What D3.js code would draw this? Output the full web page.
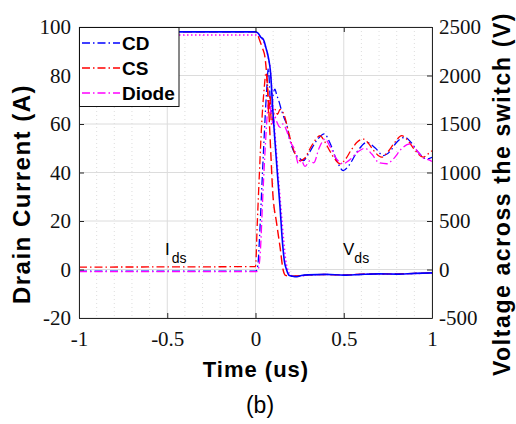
<!DOCTYPE html>
<html>
<head>
<meta charset="utf-8">
<script src="https://cdn.jsdelivr.net/npm/d3@7"></script>
<style>
  body { margin: 0; background: #fff; }
  svg { display: block; }
</style>
</head>
<body>
<svg id="chart" width="516" height="424"></svg>
<script>
// ---- data ----
var xTicks = [-1, -0.5, 0, 0.5, 1];
var xTickLabels = ["-1", "-0.5", "0", "0.5", "1"];
var iTicks = [-20, 0, 20, 40, 60, 80, 100];
var vTicks = [-500, 0, 500, 1000, 1500, 2000, 2500];
var minorX = [-0.9, -0.8, -0.7, -0.6, -0.4, -0.3, -0.2, -0.1, 0.1, 0.2, 0.3, 0.4, 0.6, 0.7, 0.8, 0.9];

var seriesNames = ["CD", "CS", "Diode"];
var seriesColors = ["#0000ff", "#ff0000", "#ff00ff"];

// drain current (A), dash-dot
var tIdsCD = [-1, 0, 0.005, 0.015, 0.022, 0.035, 0.048, 0.063, 0.073, 0.08, 0.088, 0.095, 0.1, 0.11, 0.12, 0.13, 0.148, 0.165, 0.176, 0.19, 0.215, 0.243, 0.271, 0.3, 0.35, 0.39, 0.42, 0.46, 0.497, 0.53, 0.58, 0.63, 0.68, 0.724, 0.76, 0.8, 0.847, 0.88, 0.92, 0.971, 1.0];
var idsCD  = [-0.7, -0.7, -0.5, 3, 12, 32.6, 53, 73.7, 83, 75, 64, 68, 72, 74.4, 72, 70, 65.5, 62, 60, 55, 49, 46.3, 44.9, 47.7, 53.5, 55.9, 52.5, 45, 40.8, 43, 49, 52.4, 50, 47, 48.5, 52.5, 54.5, 52.5, 48.5, 45.6, 46.3];

var tIdsCS = [-1, 0, 0.01, 0.022, 0.035, 0.048, 0.06, 0.068, 0.075, 0.082, 0.09, 0.1, 0.11, 0.125, 0.139, 0.167, 0.186, 0.205, 0.233, 0.252, 0.28, 0.31, 0.34, 0.365, 0.39, 0.42, 0.45, 0.479, 0.51, 0.54, 0.575, 0.611, 0.64, 0.67, 0.715, 0.75, 0.79, 0.828, 0.86, 0.9, 0.951, 0.975, 1.0];
var idsCS  = [1.0, 1.2, 18.9, 39.5, 60, 73.7, 81.2, 76, 64, 72, 60, 63, 66, 64, 66, 62.7, 57, 51.8, 46.3, 44.9, 46, 50, 53.5, 55.2, 53, 49, 45.5, 43.6, 45.5, 49, 52.5, 53.8, 52, 49, 46.3, 48.5, 52.5, 55.2, 53.5, 49.5, 46.3, 47.5, 49];

var tIdsDiode = [-1, 0.005, 0.015, 0.028, 0.04, 0.055, 0.068, 0.078, 0.088, 0.1, 0.11, 0.12, 0.139, 0.155, 0.176, 0.195, 0.224, 0.243, 0.26, 0.28, 0.309, 0.33, 0.36, 0.394, 0.42, 0.46, 0.497, 0.53, 0.58, 0.62, 0.66, 0.7, 0.743, 0.78, 0.83, 0.875, 0.91, 0.95, 0.99, 1.0];
var idsDiode  = [-0.9, -0.9, 0, 8, 28, 50, 65, 70, 64, 60, 63, 61, 58.6, 60, 57.3, 53, 49, 43.6, 45, 42.5, 44.9, 44, 50, 53.8, 51, 45.5, 43.6, 45, 48.5, 50, 47.5, 44, 43.6, 45.5, 50, 51.8, 49.5, 46, 45, 44.5];

// voltage across the switch (V): CD solid, CS dashed, Diode dotted
var tVdsCD = [-1, 0, 0.015, 0.03, 0.045, 0.06, 0.073, 0.086, 0.097, 0.11, 0.124, 0.139, 0.152, 0.163, 0.177, 0.19, 0.21, 0.235, 0.26, 0.3, 0.4, 0.5, 0.6, 0.7, 0.8, 0.9, 1.0];
var vdsCD  = [2450, 2450, 2435, 2395, 2370, 2280, 2185, 2015, 1670, 1328, 988, 643, 300, 95, -8, -60, -70, -75, -62, -55, -50, -58, -50, -45, -48, -40, -35];

var tVdsCS = [-1, 0, 0.012, 0.025, 0.04, 0.054, 0.063, 0.075, 0.086, 0.097, 0.12, 0.139, 0.157, 0.17, 0.2, 0.25, 0.3, 0.4, 0.5, 0.6, 0.7, 0.8, 0.9, 1.0];
var vdsCS  = [2450, 2450, 2420, 2355, 2280, 2185, 2015, 1650, 1230, 815, 473, 233, -8, -60, -70, -65, -55, -52, -55, -48, -45, -45, -40, -35];

var tVdsDiode = [-1, 0, 0.02, 0.035, 0.05, 0.07, 0.085, 0.1, 0.115, 0.13, 0.145, 0.16, 0.172, 0.185, 0.2, 0.24, 0.3, 0.4, 0.5, 0.6, 0.7, 0.8, 0.9, 1.0];
var vdsDiode  = [2418, 2418, 2410, 2385, 2330, 2200, 2050, 1650, 1300, 950, 620, 300, 90, -10, -60, -70, -58, -52, -55, -50, -46, -46, -42, -38];

// ---- layout ----
var svg = d3.select("#chart");
var pLeft = 79, pRight = 432, pTop = 27, pBottom = 318;
var axisColor = "#262626";
var tickFont = "'Liberation Serif', 'Times New Roman', serif";
var labelFont = "'Liberation Sans', Arial, Helvetica, sans-serif";

var xScale = d3.scaleLinear().domain([-1, 1]).range([pLeft, pRight]);
var yI = d3.scaleLinear().domain([-20, 100]).range([pBottom, pTop]);
var yV = d3.scaleLinear().domain([-500, 2500]).range([pBottom, pTop]);

// grid
var grid = svg.append("g");
grid.selectAll(".minorx")
  .data(minorX)
  .enter().append("line")
  .attr("x1", function(d) { return xScale(d); })
  .attr("x2", function(d) { return xScale(d); })
  .attr("y1", pTop).attr("y2", pBottom)
  .style("stroke", "#d4d4d4")
  .style("stroke-width", 0.8)
  .style("stroke-dasharray", "1,3");

grid.selectAll(".majorx")
  .data(xTicks)
  .enter().append("line")
  .attr("x1", function(d) { return xScale(d); })
  .attr("x2", function(d) { return xScale(d); })
  .attr("y1", pTop).attr("y2", pBottom)
  .style("stroke", "#dcdcdc")
  .style("stroke-width", 1);

grid.selectAll(".majory")
  .data(iTicks)
  .enter().append("line")
  .attr("x1", pLeft).attr("x2", pRight)
  .attr("y1", function(d) { return yI(d); })
  .attr("y2", function(d) { return yI(d); })
  .style("stroke", "#dcdcdc")
  .style("stroke-width", 1);

// traces
svg.append("defs").append("clipPath").attr("id", "plotclip")
  .append("rect").attr("x", pLeft).attr("y", pTop)
  .attr("width", pRight - pLeft).attr("height", pBottom - pTop);

var plot = svg.append("g").attr("clip-path", "url(#plotclip)");

function drawTrace(ts, vs, yScale, color, dash, width) {
  var pts = ts.map(function(t, i) { return [t, vs[i]]; });
  var line = d3.line()
    .x(function(d) { return xScale(d[0]); })
    .y(function(d) { return yScale(d[1]); })
    .curve(d3.curveMonotoneX);
  plot.append("path")
    .datum(pts)
    .attr("d", line)
    .style("fill", "none")
    .style("stroke", color)
    .style("stroke-width", width)
    .style("stroke-dasharray", dash);
}

var dashDot = "8,3,1.5,3";
drawTrace(tIdsCD, idsCD, yI, seriesColors[0], dashDot, 1.3);
drawTrace(tIdsCS, idsCS, yI, seriesColors[1], dashDot, 1.3);
drawTrace(tIdsDiode, idsDiode, yI, seriesColors[2], dashDot, 1.3);
drawTrace(tVdsDiode, vdsDiode, yV, seriesColors[2], "1.5,2.5", 1.4);
drawTrace(tVdsCS, vdsCS, yV, seriesColors[1], "9,4", 1.4);
drawTrace(tVdsCD, vdsCD, yV, seriesColors[0], null, 1.6);

// axes (ticks point inward)
var xAxisG = svg.append("g")
  .attr("transform", "translate(0," + pBottom + ")")
  .call(d3.axisBottom(xScale).tickValues(xTicks)
    .tickFormat(function(d, i) { return xTickLabels[i]; })
    .tickSizeInner(-5).tickSizeOuter(0).tickPadding(13));

var xTopG = svg.append("g")
  .attr("transform", "translate(0," + pTop + ")")
  .call(d3.axisTop(xScale).tickValues(xTicks).tickFormat("")
    .tickSizeInner(-5).tickSizeOuter(0));

var yLeftG = svg.append("g")
  .attr("transform", "translate(" + pLeft + ",0)")
  .call(d3.axisLeft(yI).tickValues(iTicks)
    .tickFormat(function(d) { return String(d); })
    .tickSizeInner(-5).tickSizeOuter(0).tickPadding(8));

var yRightG = svg.append("g")
  .attr("transform", "translate(" + pRight + ",0)")
  .call(d3.axisRight(yV).tickValues(vTicks)
    .tickFormat(function(d) { return String(d); })
    .tickSizeInner(-5).tickSizeOuter(0).tickPadding(7));

[xAxisG, xTopG, yLeftG, yRightG].forEach(function(g) {
  g.selectAll("path, line").style("stroke", axisColor).style("stroke-width", 1);
  g.selectAll("text")
    .style("font-family", tickFont)
    .style("font-size", "21px")
    .style("fill", "#111");
});

// legend
var legend = svg.append("g");
legend.append("rect")
  .attr("x", 79.5).attr("y", 27.5)
  .attr("width", 99.5).attr("height", 79)
  .style("fill", "#fff")
  .style("stroke", "#111")
  .style("stroke-width", 1);

seriesNames.forEach(function(name, i) {
  var ly = 43 + i * 25;
  legend.append("line")
    .attr("x1", 82).attr("x2", 120)
    .attr("y1", ly).attr("y2", ly)
    .style("stroke", seriesColors[i])
    .style("stroke-width", 1.3)
    .style("stroke-dasharray", dashDot);
  legend.append("text")
    .attr("x", 122).attr("y", ly)
    .attr("dy", "0.36em")
    .style("font-family", labelFont)
    .style("font-weight", "bold")
    .style("font-size", "19px")
    .text(name);
});

// in-plot annotations
var ids = svg.append("text")
  .attr("x", 165).attr("y", 255)
  .style("font-family", labelFont)
  .style("font-size", "17px");
ids.append("tspan").text("I");
ids.append("tspan").attr("dx", 2).attr("dy", 8).style("font-size", "14px").text("ds");

var vds = svg.append("text")
  .attr("x", 343).attr("y", 255)
  .style("font-family", labelFont)
  .style("font-size", "17px");
vds.append("tspan").text("V");
vds.append("tspan").attr("dy", 8).style("font-size", "14px").text("ds");

// axis titles
svg.append("text")
  .attr("x", 256).attr("y", 377)
  .style("text-anchor", "middle")
  .style("font-family", labelFont)
  .style("font-weight", "bold")
  .style("font-size", "22px")
  .style("letter-spacing", "1px")
  .text("Time (us)");

svg.append("text")
  .attr("transform", "translate(30,194) rotate(-90)")
  .style("text-anchor", "middle")
  .style("font-family", labelFont)
  .style("font-weight", "bold")
  .style("font-size", "24px")
  .style("letter-spacing", "1.5px")
  .text("Drain Current (A)");

svg.append("text")
  .attr("transform", "translate(510,194) rotate(-90)")
  .style("text-anchor", "middle")
  .style("font-family", labelFont)
  .style("font-weight", "bold")
  .style("font-size", "23px")
  .style("letter-spacing", "1.6px")
  .text("Voltage across the switch (V)");

svg.append("text")
  .attr("x", 260).attr("y", 413)
  .style("text-anchor", "middle")
  .style("font-family", labelFont)
  .style("font-size", "23px")
  .text("(b)");
</script>
</body>
</html>
